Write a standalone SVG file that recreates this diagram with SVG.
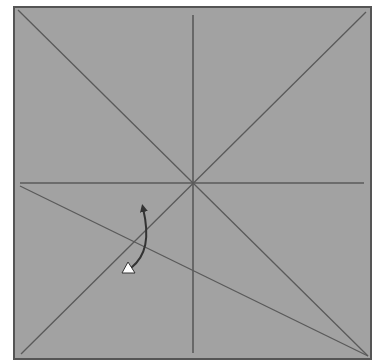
<svg xmlns="http://www.w3.org/2000/svg" width="376" height="361" viewBox="0 0 376 361">
<defs>
<style>
.ln{stroke:#5a5a5a;stroke-width:1.3;fill:none}
.arr{stroke:#333;stroke-width:2;fill:none}
</style>
<marker id="ah" markerWidth="8" markerHeight="8" refX="4" refY="4" orient="auto" markerUnits="userSpaceOnUse">
<path d="M0,0 L8,4 L0,8 z" fill="#333"/>
</marker>
</defs>
<rect width="376" height="361" fill="#fff"/>
<g id="paper">
<rect x="14" y="7" width="357" height="352" fill="#a2a2a2" stroke="#555" stroke-width="2"/>
</g>
<g id="connectors">
<line class="ln" x1="193" y1="15" x2="193" y2="353" style="stroke:#4a4a4a"/>
<line class="ln" x1="20" y1="183" x2="364" y2="183"/>
<line class="ln" x1="18" y1="10" x2="368" y2="356"/>
<line class="ln" x1="366" y1="12" x2="21" y2="354"/>
<line class="ln" x1="20" y1="186" x2="368" y2="356"/>
<path class="arr" d="M131,268 C146,256 150,238 143,208" marker-end="url(#ah)"/>
</g>
<g id="marker-triangle">
<polygon points="128,262 122,273 135,273" fill="#fff" stroke="#333" stroke-width="1"/>
</g>
</svg>
